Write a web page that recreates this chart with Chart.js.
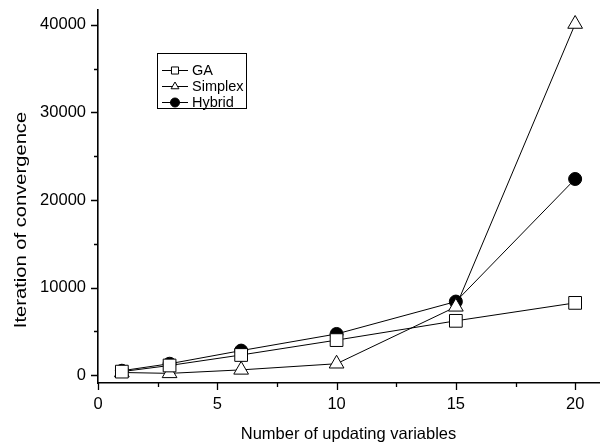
<!DOCTYPE html>
<html>
<head>
<meta charset="utf-8">
<script src="https://cdn.jsdelivr.net/npm/chart.js@4/dist/chart.umd.min.js"></script>
<style>
  html, body { margin: 0; padding: 0; background: #fff; }
  #wrap { width: 609px; height: 444px; }
</style>
</head>
<body>
<div id="wrap"><canvas id="chart"></canvas></div>
<script>
const xValues = [1, 3, 6, 10, 15, 20];
const gaValues = [400, 1100, 2300, 4000, 6200, 8250];
const simplexValues = [300, 200, 600, 1300, 7800, 40100];
const hybridValues = [500, 1300, 2800, 4700, 8400, 22400];
const yTicks = [0, 10000, 20000, 30000, 40000];
const xTicks = [0, 5, 10, 15, 20];

const FONT = '"Liberation Sans", Arial, sans-serif';

const toPoints = vals => vals.map((v, i) => ({ x: xValues[i], y: v }));

// outward major/minor ticks on the left and bottom axes
const axisTicks = {
  id: 'axisTicks',
  afterDraw(chart) {
    const { ctx, chartArea, scales } = chart;
    ctx.save();
    ctx.strokeStyle = '#000';
    ctx.lineWidth = 1.3;
    ctx.beginPath();
    for (let v = 0; v <= 21; v += 2.5) {
      const px = Math.round(scales.x.getPixelForValue(v)) + 0.5;
      const len = v % 5 === 0 ? 7 : 4;
      ctx.moveTo(px, chartArea.bottom);
      ctx.lineTo(px, chartArea.bottom + len);
    }
    for (let v = 0; v <= 41700; v += 5000) {
      const py = Math.round(scales.y.getPixelForValue(v)) + 0.5;
      const len = v % 10000 === 0 ? 7 : 4;
      ctx.moveTo(chartArea.left, py);
      ctx.lineTo(chartArea.left - len, py);
    }
    ctx.stroke();

    // y axis title, drawn by hand so it can be stretched along its length
    ctx.fillStyle = '#000';
    ctx.font = '16px ' + FONT;
    ctx.textAlign = 'center';
    ctx.textBaseline = 'middle';
    ctx.translate(22, 220);
    ctx.rotate(-Math.PI / 2);
    ctx.scale(1.26, 1);
    ctx.fillText('Iteration of convergence', 0, 0);
    ctx.restore();
  }
};

// boxed legend with line-through-marker samples
const boxLegend = {
  id: 'boxLegend',
  afterDraw(chart) {
    const { ctx } = chart;
    const x0 = 157, y0 = 53, w = 89, h = 55;
    ctx.save();
    ctx.strokeStyle = '#000';
    ctx.lineWidth = 1;
    ctx.strokeRect(x0 + 0.5, y0 + 0.5, w, h);
    ctx.font = '14.5px ' + FONT;
    ctx.textBaseline = 'middle';
    chart.data.datasets.forEach((ds, i) => {
      const cy = y0 + 17 + i * 16;
      ctx.strokeStyle = '#000';
      ctx.beginPath();
      ctx.moveTo(x0 + 5, cy + 0.5);
      ctx.lineTo(x0 + 31, cy + 0.5);
      ctx.stroke();
      ctx.fillStyle = ds.pointBackgroundColor;
      Chart.helpers.drawPoint(ctx, {
        pointStyle: ds.pointStyle,
        radius: ds.pointStyle === 'rect' ? 5 : 4.5,
        borderWidth: 1
      }, x0 + 18, cy + 0.5);
      ctx.fillStyle = '#000';
      ctx.fillText(ds.label, x0 + 35, cy + 1);
    });
    ctx.restore();
  }
};

function series(label, values, style, fill, radius) {
  return {
    label: label,
    data: toPoints(values),
    borderColor: '#000',
    borderWidth: 1,
    pointStyle: style,
    pointRadius: radius,
    pointBorderColor: '#000',
    pointBorderWidth: 1,
    pointBackgroundColor: fill,
    backgroundColor: fill,
    tension: 0
  };
}

new Chart(document.getElementById('chart'), {
  type: 'line',
  data: {
    datasets: [
      series('GA', gaValues, 'rect', '#fff', 9),
      series('Simplex', simplexValues, 'triangle', '#fff', 8.5),
      series('Hybrid', hybridValues, 'circle', '#000', 6.5)
    ]
  },
  options: {
    responsive: true,
    maintainAspectRatio: false,
    animation: false,
    layout: { padding: { top: 10, right: 9, left: 0, bottom: 0 } },
    plugins: {
      legend: { display: false },
      tooltip: { enabled: false }
    },
    scales: {
      x: {
        type: 'linear',
        min: 0,
        max: 21,
        grid: { display: false },
        border: { display: true, color: '#000', width: 1.6 },
        afterBuildTicks: s => { s.ticks = xTicks.map(v => ({ value: v })); },
        afterFit: s => {
          s.height = 61;
          s.paddingLeft = 0;
          s.paddingRight = 0;
        },
        ticks: {
          color: '#000',
          padding: 4,
          callback: v => String(v),
          font: { family: FONT, size: 16.5 }
        },
        title: {
          display: true,
          text: 'Number of updating variables',
          color: '#000',
          padding: { top: 1, bottom: 0 },
          font: { family: FONT, size: 16.5 }
        }
      },
      y: {
        min: -900,
        max: 41700,
        grid: { display: false },
        border: { display: true, color: '#000', width: 1.6 },
        afterBuildTicks: s => { s.ticks = yTicks.map(v => ({ value: v })); },
        afterFit: s => {
          s.width = 98;
          s.paddingTop = 0;
          s.paddingBottom = 0;
        },
        ticks: {
          color: '#000',
          padding: 4,
          callback: v => String(v),
          font: { family: FONT, size: 16.5 }
        }
      }
    }
  },
  plugins: [axisTicks, boxLegend]
});
</script>
</body>
</html>
